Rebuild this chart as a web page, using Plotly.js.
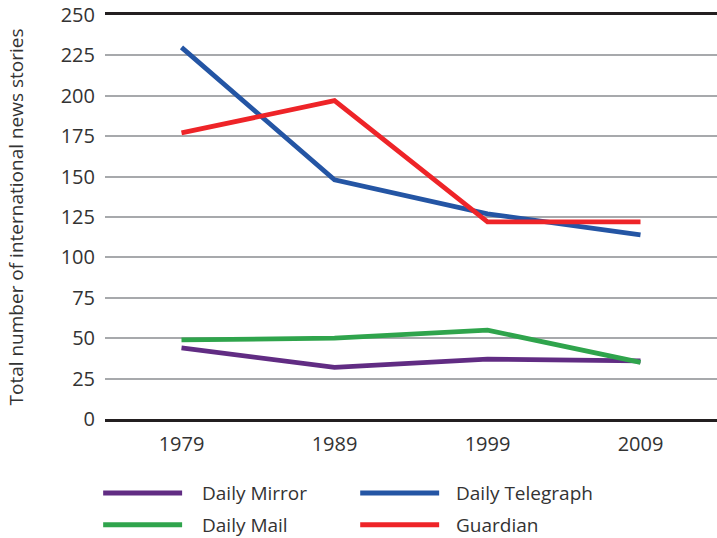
<!DOCTYPE html>
<html>
<head>
<meta charset="utf-8">
<script src="https://cdn.plot.ly/plotly-3.0.1.min.js"></script>
<style>html,body{margin:0;padding:0;background:#fff;}#chart{width:717px;height:538px;}</style>
</head>
<body>
<div id="chart"></div>
<script>
var years = ['1979', '1989', '1999', '2009'];
var seriesNames = ['Daily Mirror', 'Daily Telegraph', 'Daily Mail', 'Guardian'];
var dailyMirror = [44, 32, 37, 36];
var dailyTelegraph = [230, 148, 127, 114];
var dailyMail = [49, 50, 55, 35];
var guardian = [177, 197, 122, 122];
var yTicks = [0, 25, 50, 75, 100, 125, 150, 175, 200, 225, 250];

var colors = {
  'Daily Mirror': '#612c83',
  'Daily Telegraph': '#2455a4',
  'Daily Mail': '#2fa44c',
  'Guardian': '#ee2428'
};
var values = {
  'Daily Mirror': dailyMirror,
  'Daily Telegraph': dailyTelegraph,
  'Daily Mail': dailyMail,
  'Guardian': guardian
};
var drawOrder = ['Daily Mirror', 'Daily Mail', 'Daily Telegraph', 'Guardian'];
var traces = drawOrder.map(function (n) {
  return {
    x: years, y: values[n], name: n, type: 'scatter', mode: 'lines',
    line: {color: colors[n], width: 4.8},
    showlegend: false
  };
});

var textColor = '#333333';
var font = 'Open Sans, Noto Sans, sans-serif';

// manual legend (2 columns x 2 rows), paper coords relative to plot area
var legLineX0 = [-0.003, 0.417];
var legLineX1 = [0.126, 0.546];
var legTextX = [0.155, 0.570];
var legY = [-0.183, -0.262];
var shapes = [];
var annotations = [];
seriesNames.forEach(function (n, i) {
  var col = i % 2, row = Math.floor(i / 2);
  shapes.push({
    type: 'line', xref: 'paper', yref: 'paper',
    x0: legLineX0[col], x1: legLineX1[col], y0: legY[row], y1: legY[row],
    line: {color: colors[n], width: 5}
  });
  annotations.push({
    xref: 'paper', yref: 'paper', x: legTextX[col], y: legY[row],
    xanchor: 'left', yanchor: 'middle', showarrow: false,
    text: n, font: {family: font, size: 19, color: textColor}
  });
});

var layout = {
  width: 717, height: 538,
  margin: {l: 105, r: 0, t: 15, b: 119},
  paper_bgcolor: '#ffffff', plot_bgcolor: '#ffffff',
  font: {family: font, color: textColor, size: 19},
  xaxis: {
    type: 'category', range: [-0.5, 3.5],
    showgrid: false, zeroline: false,
    showline: true, mirror: true, linecolor: '#231f20', linewidth: 3,
    ticks: '', ticklabelstandoff: 5,
    tickfont: {family: font, size: 20, color: textColor}
  },
  yaxis: {
    range: [0, 250], tickvals: yTicks, ticktext: yTicks.map(String),
    showgrid: true, gridcolor: '#a7a9ac', gridwidth: 2,
    zeroline: false, showline: false, ticks: '',
    ticklabelstandoff: 9,
    tickfont: {family: font, size: 20, color: textColor},
    title: {text: 'Total number of international news stories', standoff: 32,
            font: {family: font, size: 19, color: textColor}}
  },
  shapes: shapes,
  annotations: annotations
};

Plotly.newPlot('chart', traces, layout, {displayModeBar: false, staticPlot: true});
</script>
</body>
</html>
